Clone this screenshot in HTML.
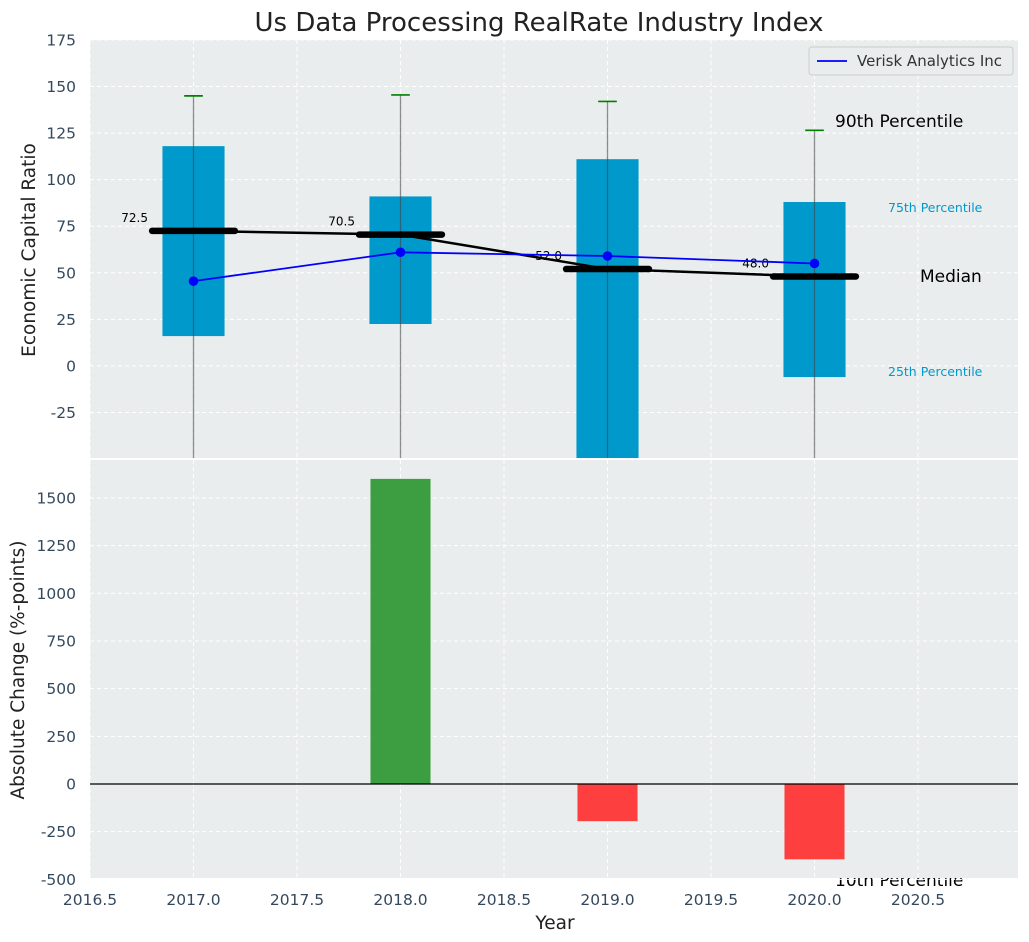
<!DOCTYPE html>
<html><head><meta charset="utf-8"><style>
body{margin:0;background:#fff;}
svg{display:block;font-family:"DejaVu Sans","Liberation Sans",sans-serif;}
</style></head><body>
<svg id="c" width="1029" height="942"></svg>
<script>
const years=[2017,2018,2019,2020];
const p25=[16,22.5,-50,-6];
const p75=[118,91,111,88];
const p90=[145,145.5,142,126.5];
const p10=[-60,-60,-60,-60];
const medians=[72.5,70.5,52.0,48.0];
const verisk=[45.5,61,59,55];
const changeYears=[2018,2019,2020];
const changes=[1600,-195,-395];
const xTicks=[2016.5,2017.0,2017.5,2018.0,2018.5,2019.0,2019.5,2020.0,2020.5];
const yTopTicks=[-25,0,25,50,75,100,125,150,175];
const yBotTicks=[-500,-250,0,250,500,750,1000,1250,1500];

const NS="http://www.w3.org/2000/svg";
const svg=document.getElementById('c');
function el(t,a,p){const e=document.createElementNS(NS,t);for(const k in a)e.setAttribute(k,a[k]);(p||svg).appendChild(e);return e;}
const L=90,R=1018,T1=40,B1=459,T2=460,B2=878;
const x=v=>L+(v-2016.5)*207;
const y1=v=>T1+(175-v)*(B1-T1)/225;
const y2=v=>784-v*0.1907;
const TF=15.5;

const defs=el('defs',{});
const c1=el('clipPath',{id:'c1'},defs);el('rect',{x:L,y:T1,width:R-L,height:B1-T1-1},c1);
const c2=el('clipPath',{id:'c2'},defs);el('rect',{x:L,y:T2,width:R-L,height:B2-T2},c2);

let e;
// 10th percentile text drawn first so panel hides its upper part
e=el('text',{x:835,y:886,'font-size':17,fill:'#000'});e.textContent='10th Percentile';


e=el('rect',{x:L,y:T1,width:R-L,height:B1-T1-1,fill:'#eaeded'});

e=el('rect',{x:L,y:T2,width:R-L,height:B2-T2,fill:'#eaeded'});


xTicks.forEach(t=>{
 el('line',{x1:x(t),x2:x(t),y1:T1,y2:B1-1,stroke:'#fff','stroke-dasharray':'4,3','stroke-width':1});
 el('line',{x1:x(t),x2:x(t),y1:T2,y2:B2,stroke:'#fff','stroke-dasharray':'4,3','stroke-width':1});
 e=el('text',{x:x(t),y:905,'text-anchor':'middle','font-size':TF,fill:'#34495e'});e.textContent=t.toFixed(1);
 
});
yTopTicks.forEach(t=>{
 el('line',{x1:L,x2:R,y1:y1(t),y2:y1(t),stroke:'#fff','stroke-dasharray':'4,3'});
 e=el('text',{x:L-14,y:y1(t)+5.5,'text-anchor':'end','font-size':TF,fill:'#34495e'});e.textContent=t;
 
});
yBotTicks.forEach(t=>{
 el('line',{x1:L,x2:R,y1:y2(t),y2:y2(t),stroke:'#fff','stroke-dasharray':'4,3'});
 e=el('text',{x:L-14,y:y2(t)+5.5,'text-anchor':'end','font-size':TF,fill:'#34495e'});e.textContent=t;
 
});

const g1=el('g',{'clip-path':'url(#c1)'});
years.forEach((yr,i)=>{
 e=el('rect',{x:x(yr-0.15),y:y1(p75[i]),width:x(yr+0.15)-x(yr-0.15),height:y1(p25[i])-y1(p75[i]),fill:'#0099cc'},g1);
 
 e=el('line',{x1:x(yr),x2:x(yr),y1:y1(p90[i]),y2:y1(p10[i]),stroke:'#444','stroke-opacity':0.6,'stroke-width':1.3},g1);
 
 e=el('line',{x1:x(yr-0.045),x2:x(yr+0.045),y1:y1(p90[i]),y2:y1(p90[i]),stroke:'green','stroke-width':1.7},g1);
 
});
e=el('polyline',{points:years.map((yr,i)=>x(yr)+','+y1(medians[i])).join(' '),fill:'none',stroke:'#000','stroke-width':2.5},g1);

years.forEach((yr,i)=>{
 e=el('line',{x1:x(yr-0.2),x2:x(yr+0.2),y1:y1(medians[i]),y2:y1(medians[i]),stroke:'#000','stroke-width':6.5,'stroke-linecap':'round'},g1);
 
 e=el('text',{x:x(yr-0.22),y:y1(medians[i])-9,'text-anchor':'end','font-size':12,fill:'#000'},g1);e.textContent=medians[i].toFixed(1);
 
});
e=el('polyline',{points:years.map((yr,i)=>x(yr)+','+y1(verisk[i])).join(' '),fill:'none',stroke:'#0000ff','stroke-width':1.8},g1);

years.forEach((yr,i)=>{e=el('circle',{cx:x(yr),cy:y1(verisk[i]),r:4.8,fill:'#0000ff'},g1);
 });
const ann=[[835,127,'90th Percentile',17,'#000'],[888,212,'75th Percentile',12.5,'#0099cc'],[920,282,'Median',17,'#000'],[888,376,'25th Percentile',12.5,'#0099cc']];
ann.forEach(a=>{e=el('text',{x:a[0],y:a[1],'font-size':a[3],fill:a[4]},g1);e.textContent=a[2];
 });

const g2=el('g',{'clip-path':'url(#c2)'});
changeYears.forEach((yr,i)=>{
 const v=changes[i];
 e=el('rect',{x:x(yr-0.145),y:Math.min(y2(v),y2(0)),width:x(yr+0.145)-x(yr-0.145),height:Math.abs(y2(v)-y2(0)),fill:v>=0?'#2e9632':'#ff3030','fill-opacity':0.92},g2);
 
});
el('line',{x1:L,x2:R,y1:y2(0),y2:y2(0),stroke:'#000','stroke-width':1.2},g2);

const lg=el('g',{});
el('rect',{x:809,y:47,width:204,height:28,rx:3,fill:'#eaeded',stroke:'#ccc'},lg);
el('line',{x1:817,x2:847,y1:61,y2:61,stroke:'#0000ff','stroke-width':1.8},lg);
e=el('text',{x:857,y:66,'font-size':15,fill:'#333'},lg);e.textContent='Verisk Analytics Inc';

e=el('text',{x:539,y:31,'text-anchor':'middle','font-size':26,fill:'#222'});e.textContent='Us Data Processing RealRate Industry Index';

e=el('text',{x:555,y:929,'text-anchor':'middle','font-size':18.5,fill:'#222'});e.textContent='Year';

e=el('text',{x:35,y:250,'text-anchor':'middle','font-size':18.5,fill:'#222',transform:'rotate(-90 35 250)'});e.textContent='Economic Capital Ratio';

e=el('text',{x:24,y:670,'text-anchor':'middle','font-size':18.5,fill:'#222',transform:'rotate(-90 24 670)'});e.textContent='Absolute Change (%-points)';

</script>
</body></html>
